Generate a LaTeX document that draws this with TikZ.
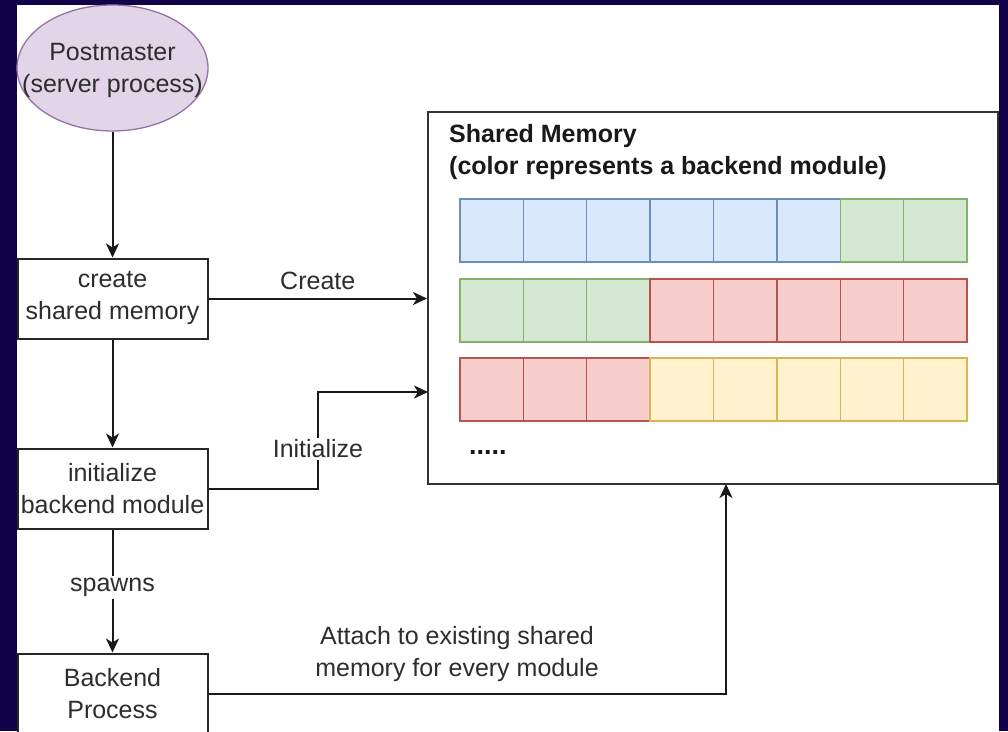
\documentclass[tikz,border=0pt]{standalone}
\usepackage{fontspec}
\setmainfont{Liberation Sans}
\usetikzlibrary{shapes.geometric,arrows.meta,calc}
\definecolor{navy}{RGB}{18,2,74}
\definecolor{txt}{RGB}{45,45,45}
\definecolor{ellfill}{HTML}{E1D5E7}
\definecolor{ellline}{HTML}{9673A6}
\definecolor{bluef}{HTML}{DAE8FC}
\definecolor{bluel}{HTML}{6C8EBF}
\definecolor{greenf}{HTML}{D5E8D4}
\definecolor{greenl}{HTML}{82B366}
\definecolor{redf}{HTML}{F8CECC}
\definecolor{redl}{HTML}{B85450}
\definecolor{yelf}{HTML}{FFF2CC}
\definecolor{yell}{HTML}{D6B656}
\tikzset{
  every node/.style={font=\fontsize{25}{32}\selectfont, text=txt, align=center, inner sep=0pt},
  procbox/.style={draw=black!85, line width=2pt, fill=white, minimum width=190pt, minimum height=80pt},
  arr/.style={draw=black!90, line width=2pt, -{Stealth[length=14pt,width=13pt,inset=4pt]}},
  lbl/.style={fill=white, inner sep=2pt},
  cellstyle/.style={line width=1.3pt}
}
\begin{document}
\begin{tikzpicture}[x=1pt,y=-1pt]
\useasboundingbox (0,0) rectangle (1008,731);
\fill[navy] (0,0) rectangle (1008,731);
\fill[white] (17,5) rectangle (999,731);

% nodes
\node[ellipse, draw=ellline, fill=ellfill, line width=1.3pt, minimum width=191pt, minimum height=126pt,
      label={[align=center, yshift=-2pt]center:Postmaster\\(server process)}] (pm) at (112.5,68) {};
\node[procbox] (create) at (112.5,298.5) {create\\shared memory};
\node[procbox] (init) at (112.5,488.5) {initialize\\backend module};
\node[procbox] (backend) at (112.5,693.5) {Backend\\Process};
\node[draw=black!80, line width=2pt, minimum width=570pt, minimum height=372pt] (sm) at (713,298) {};
\node[anchor=west, font=\fontsize{25}{32}\selectfont\bfseries, text=black!90, align=left] (smtitle) at (449,152) {Shared Memory\\(color represents a backend module)};
\node[anchor=west, font=\fontsize{27}{32}\selectfont\bfseries, text=black!90] (dots) at (469,452) {.....};

% memory cells
\def\cw{63.375}
\foreach \i/\f/\l in {0/bluef/bluel,1/bluef/bluel,2/bluef/bluel,3/bluef/bluel,4/bluef/bluel,5/bluef/bluel,6/greenf/greenl,7/greenf/greenl}
  \filldraw[cellstyle, fill=\f, draw=\l] ({460+\i*\cw},199) rectangle ++(\cw,63);
\foreach \i/\f/\l in {0/greenf/greenl,1/greenf/greenl,2/greenf/greenl,3/redf/redl,4/redf/redl,5/redf/redl,6/redf/redl,7/redf/redl}
  \filldraw[cellstyle, fill=\f, draw=\l] ({460+\i*\cw},279) rectangle ++(\cw,63);
\foreach \i/\f/\l in {0/redf/redl,1/redf/redl,2/redf/redl,3/yelf/yell,4/yelf/yell,5/yelf/yell,6/yelf/yell,7/yelf/yell}
  \filldraw[cellstyle, fill=\f, draw=\l] ({460+\i*\cw},358) rectangle ++(\cw,63);

% connector end points on the shared memory box
\coordinate (smi) at (428,392);
\coordinate (sma) at (726,484);

% connectors
\draw[arr] (pm) -- (create);
\draw[arr] (create) -- (init);
\draw[arr] (init) -- node[lbl, pos=0.47] {spawns} (backend);
\draw[arr] (create.east) -- node[above=8pt] {Create} (sm.west |- create.east);
\draw[arr] (init.east) -- (318,488.5) -- node[lbl, pos=0.41] {Initialize} (318,392) -- (smi);
\draw[arr] (backend.east) -| (sma);
\node (attach) at (457,654) {Attach to existing shared\\memory for every module};
\end{tikzpicture}
\end{document}
